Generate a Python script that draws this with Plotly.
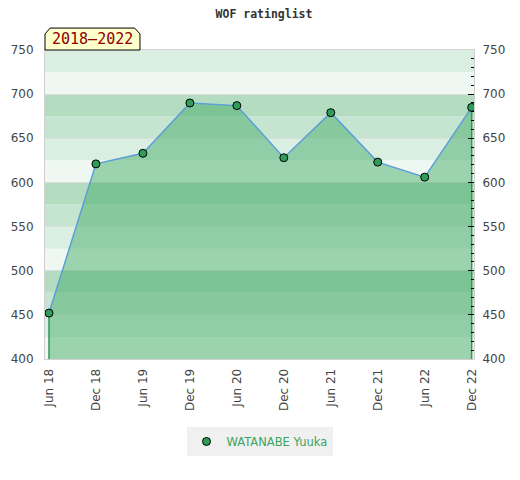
import plotly.graph_objects as go

categories = ["Jun 18", "Dec 18", "Jun 19", "Dec 19", "Jun 20",
              "Dec 20", "Jun 21", "Dec 21", "Jun 22", "Dec 22"]
ratings = [452, 621, 633, 690, 687, 628, 679, 623, 606, 685]
player = "WATANABE Yuuka"
period_label = "2018\u20132022"
title_text = "WOF ratinglist"
y_min, y_max = 400, 750
y_ticks = [400, 450, 500, 550, 600, 650, 700, 750]

band_colors = ["#eef7f1", "#daeee2", "#c6e5d0", "#b3dcc1"]

fig = go.Figure()

# fill under the line
fig.add_trace(go.Scatter(
    x=categories, y=ratings, mode="lines", fill="tozeroy",
    fillcolor="rgba(63,171,100,0.47)", line=dict(width=0, color="rgba(0,0,0,0)"),
    showlegend=False, hoverinfo="skip"))

# vertical edges of the filled area
for idx in (0, len(categories) - 1):
    fig.add_trace(go.Scatter(
        x=[categories[idx], categories[idx]], y=[y_min, ratings[idx]],
        mode="lines", line=dict(color="#2f9a55", width=1.5),
        showlegend=False, hoverinfo="skip"))

# rating line
fig.add_trace(go.Scatter(
    x=categories, y=ratings, mode="lines",
    line=dict(color="#5b9fd8", width=1.5), showlegend=False))

# markers
fig.add_trace(go.Scatter(
    x=categories, y=ratings, mode="markers", name=player,
    marker=dict(size=8, color="#2e9d57", line=dict(color="black", width=1))))

# right-hand axis companion
fig.add_trace(go.Scatter(
    x=categories, y=ratings, yaxis="y2", mode="markers",
    marker=dict(opacity=0), showlegend=False, hoverinfo="skip"))

shapes = []
for i, lo in enumerate(range(y_min, y_max, 25)):
    shapes.append(dict(type="rect", xref="paper", yref="y", x0=0, x1=1,
                       y0=lo, y1=lo + 25, layer="below", line=dict(width=0),
                       fillcolor=band_colors[i % 4]))

# period label box with cut corners
shapes.append(dict(type="path", xref="paper", yref="paper", layer="above",
                   path="M 0,1 L 0,1.052 L 0.012,1.071 L 0.209,1.071 L 0.2214,1.052 L 0.2214,1 Z",
                   fillcolor="#ffffcc", line=dict(color="black", width=1)))

axis_font = dict(family="DejaVu Sans", size=12, color="#444444")

fig.update_layout(
    width=512, height=472,
    margin=dict(l=37, r=46, t=42, b=121),
    paper_bgcolor="white", plot_bgcolor="white",
    shapes=shapes,
    title=dict(text=title_text, x=0.5, xanchor="center", y=0.9875, yanchor="middle",
               font=dict(family="DejaVu Sans Mono", size=11.5, color="#333333", weight="bold")),
    annotations=[dict(text=period_label, xref="paper", yref="paper",
                      x=0.1107, y=1.036, xanchor="center", yanchor="middle",
                      showarrow=False,
                      font=dict(family="DejaVu Sans Mono", size=15, color="#8b0000"))],
    xaxis=dict(type="category", range=[-0.085, 9.05], tickangle=-90, automargin=False,
               showgrid=False, showline=True, linecolor="#d0d0d0", mirror=True,
               ticks="", tickfont=axis_font, ticklabelstandoff=4, zeroline=False),
    yaxis=dict(range=[y_min, y_max], tickvals=y_ticks, showgrid=True, automargin=False,
               gridcolor="#dedede", gridwidth=1, showline=True, linecolor="#d0d0d0",
               ticks="", tickfont=axis_font, ticklabelstandoff=8, zeroline=False),
    yaxis2=dict(range=[y_min, y_max], tickvals=y_ticks, overlaying="y", side="right",
                showgrid=False, showline=True, linecolor="#d0d0d0", automargin=False,
                ticks="inside", ticklen=6, tickcolor="black",
                minor=dict(dtick=10, ticks="inside", ticklen=3, tickcolor="black"),
                tickfont=axis_font, ticklabelstandoff=5, zeroline=False),
    legend=dict(orientation="h", x=0.5, xanchor="center", y=-0.22, yanchor="top",
                bgcolor="#f0f0f0", font=dict(family="DejaVu Sans", size=11.5, color="#3aa55e")),
    showlegend=True,
)

fig.write_html("out.html")
